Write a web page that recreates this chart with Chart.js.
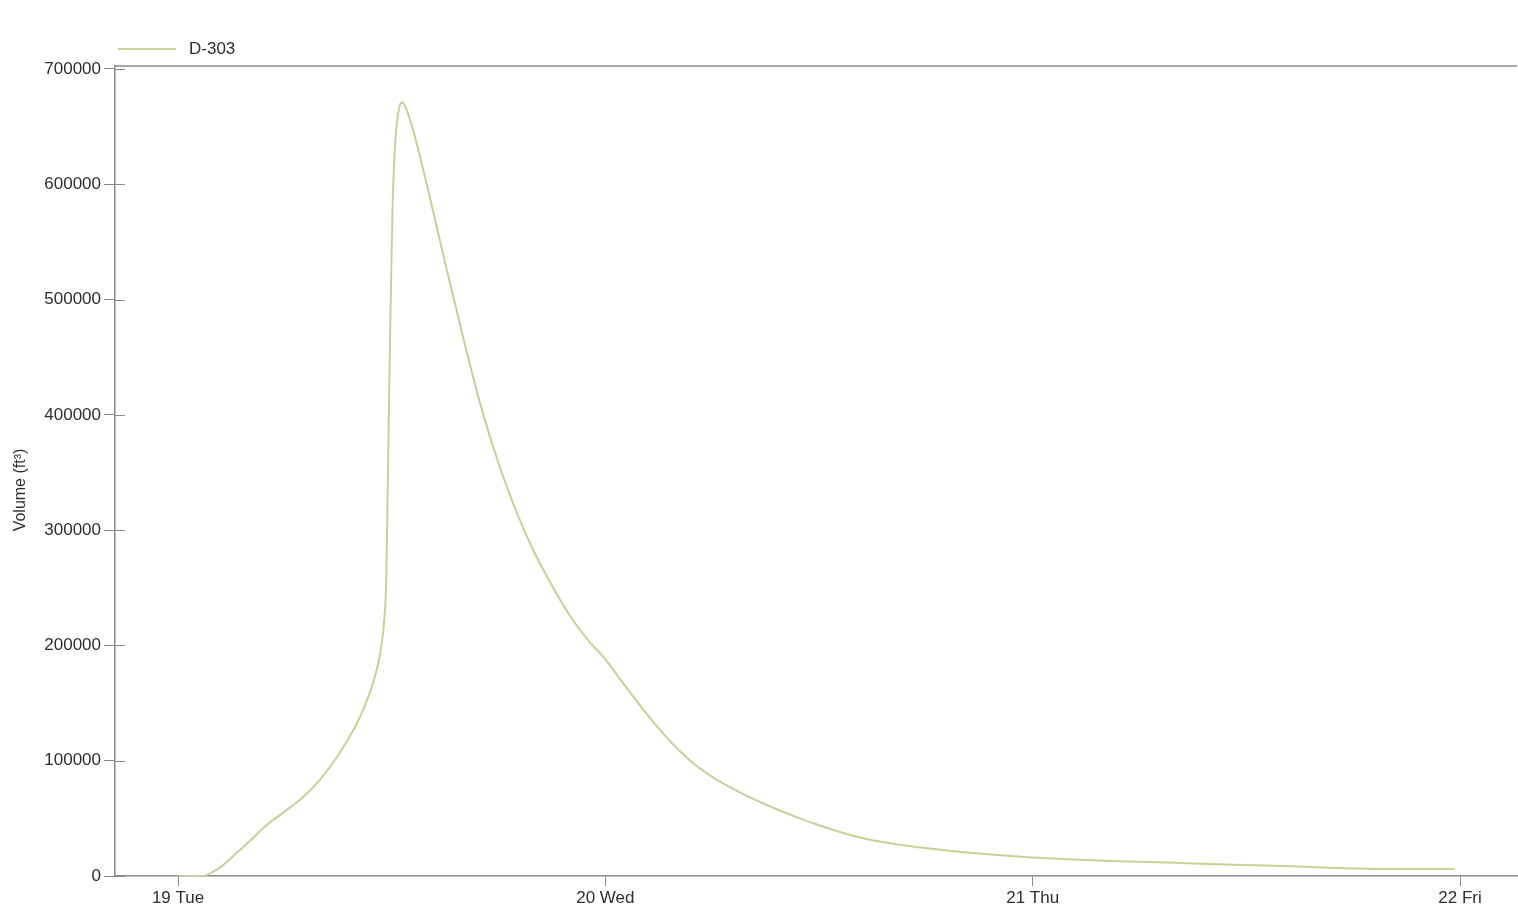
<!DOCTYPE html>
<html>
<head>
<meta charset="utf-8">
<title>D-303 Volume</title>
<script src="https://cdn.jsdelivr.net/npm/chart.js@4.4.1/dist/chart.umd.min.js"></script>
<style>
  html, body { margin: 0; padding: 0; background: #fff; }
  canvas { display: block; }
</style>
</head>
<body>
<canvas id="Volume__Canvas" width="1518" height="909"></canvas>
<script>
// hours from 19 Tue 00:00, and storage volume in ft³
const hours = [
  0, 1, 1.4, 2, 2.5, 3, 4, 5, 6, 7, 8, 9, 10, 10.5, 11, 11.35, 11.6, 11.7,
  11.78, 11.9, 12.04, 12.18, 12.4, 12.6, 12.8, 13.2, 14, 15, 16, 17, 18, 19,
  20, 21, 22, 23, 24, 25, 26, 27, 28, 29, 30, 31, 32, 33, 34, 35, 36, 37, 38,
  39, 40, 42, 44, 46, 48, 50, 52, 54, 56, 58, 60, 62, 64, 66, 68, 70, 71.7
];
const volumes = [
  0, 0, 0, 4000, 9000, 16000, 30000, 44500, 56000, 68000, 84000, 105000,
  131000, 148000, 170000, 193000, 226000, 260000, 340000, 460000, 575000,
  632000, 665000, 671000, 666000, 647000, 598000, 532000, 468000, 408000,
  358000, 316000, 281000, 252000, 226000, 205000, 188000, 167000, 147000,
  128000, 111000, 97000, 86000, 77000, 69000, 62000, 55500, 49500, 44000,
  39000, 34500, 31000, 28500, 24200, 20800, 18300, 16000, 14500, 13300,
  12300, 11400, 10400, 9500, 8600, 7600, 6600, 6000, 6000, 6000
];
const dayTicks = [0, 24, 48, 72];
const dayLabels = ["19 Tue", "20 Wed", "21 Thu", "22 Fri"];
const volumeTicks = [0, 100000, 200000, 300000, 400000, 500000, 600000, 700000];

const lineColor = "#c4d296";
const axisColor = "#8a8a8a";
const textColor = "#2e2e2e";
const fontFamily = "'Liberation Sans', Arial, sans-serif";

// top border, inner tick halves, legend and the axis title
const framePlugin = {
  id: "frame",
  afterDraw(chart) {
    const ctx = chart.ctx;
    const area = chart.chartArea;
    const yScale = chart.scales.y;
    ctx.save();
    ctx.strokeStyle = axisColor;
    ctx.lineWidth = 1.5;
    ctx.beginPath();
    ctx.moveTo(area.left, area.top);
    ctx.lineTo(area.right, area.top);
    ctx.stroke();

    ctx.lineWidth = 1;
    volumeTicks.forEach((v) => {
      const y = Math.round(yScale.getPixelForValue(v)) + 0.5;
      ctx.beginPath();
      ctx.moveTo(area.left, y);
      ctx.lineTo(area.left + 10, y);
      ctx.stroke();
    });

    const ds = chart.data.datasets[0];
    ctx.strokeStyle = ds.borderColor;
    ctx.lineWidth = 2;
    ctx.beginPath();
    ctx.moveTo(118, 49);
    ctx.lineTo(176, 49);
    ctx.stroke();
    ctx.fillStyle = textColor;
    ctx.font = "17px " + fontFamily;
    ctx.textBaseline = "middle";
    ctx.textAlign = "left";
    ctx.fillText(ds.label, 189, 49);

    ctx.translate(21, 490);
    ctx.rotate(-Math.PI / 2);
    ctx.textAlign = "center";
    ctx.font = "16px " + fontFamily;
    ctx.fillText("Volume (ft³)", 0, 0);
    ctx.restore();
  },
};

const volumeChart = new Chart(document.getElementById("Volume__Canvas"), {
  type: "line",
  data: {
    datasets: [
      {
        label: "D-303",
        data: hours.map((h, i) => ({ x: h, y: volumes[i] })),
        borderColor: lineColor,
        backgroundColor: lineColor,
        borderWidth: 2,
        pointRadius: 0,
        fill: false,
        cubicInterpolationMode: "monotone",
      },
    ],
  },
  options: {
    responsive: false,
    animation: false,
    layout: { padding: { top: 66, right: 1, left: 0, bottom: 0 } },
    plugins: {
      legend: { display: false },
      tooltip: { enabled: false },
    },
    scales: {
      x: {
        type: "linear",
        min: -3.54,
        max: 75.2,
        afterBuildTicks: (scale) => {
          scale.ticks = dayTicks.map((v) => ({ value: v }));
        },
        afterFit: (scale) => {
          scale.height = 33;
        },
        ticks: {
          autoSkip: false,
          maxRotation: 0,
          padding: 2,
          color: textColor,
          font: { family: fontFamily, size: 17 },
          callback: (v) => dayLabels[dayTicks.indexOf(v)],
        },
        grid: { drawOnChartArea: false, tickLength: 10, color: axisColor },
        border: { color: axisColor, width: 1.5 },
      },
      y: {
        min: 0,
        max: 702600,
        afterBuildTicks: (scale) => {
          scale.ticks = volumeTicks.map((v) => ({ value: v }));
        },
        afterFit: (scale) => {
          scale.width = 115;
        },
        ticks: {
          padding: 3,
          color: textColor,
          font: { family: fontFamily, size: 17 },
          callback: (v) => String(v),
        },
        grid: { drawOnChartArea: false, tickLength: 11, color: axisColor },
        border: { color: axisColor, width: 1.5 },
      },
    },
  },
  plugins: [framePlugin],
});
</script>
</body>
</html>
